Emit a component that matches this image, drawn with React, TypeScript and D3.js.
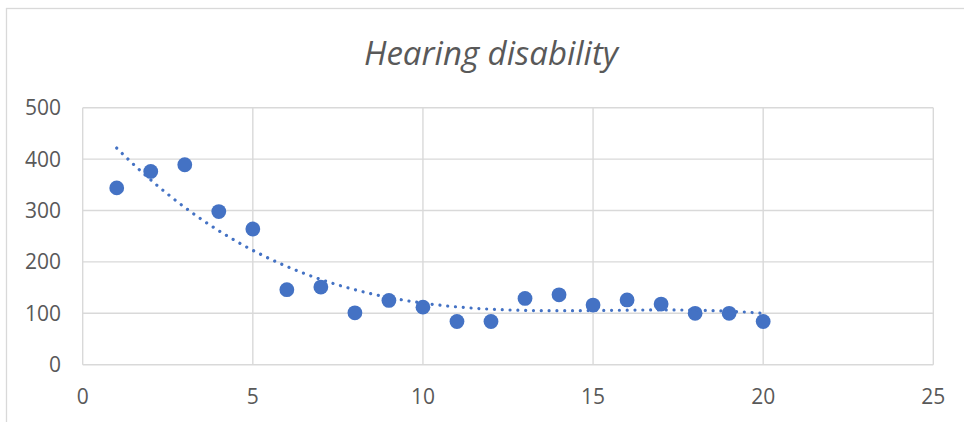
import React from "react";
import * as d3 from "d3";

const xValues = [1, 2, 3, 4, 5, 6, 7, 8, 9, 10, 11, 12, 13, 14, 15, 16, 17, 18, 19, 20];
const yValues = [344, 376, 389, 298, 264, 146, 151, 101, 125, 112, 84, 84, 129, 136, 116, 126, 118, 100, 100, 84];
const xTicks = [0, 5, 10, 15, 20, 25];
const yTicks = [0, 100, 200, 300, 400, 500];
const title = "Hearing disability";
const trendOrder = 3;

const W = 964;
const H = 422;
const plot = { left: 82.7, right: 933.3, top: 107.7, bottom: 364.7 };
const blue = "#4472C4";
const grid = "#d9d9d9";
const textColor = "#595959";
const font = "'Open Sans', 'Noto Sans', sans-serif";

function polyFit(xs: number[], ys: number[], order: number): number[] {
  const n = order + 1;
  const A: number[][] = Array.from({ length: n }, () => new Array(n + 1).fill(0));
  for (let i = 0; i < xs.length; i++) {
    for (let r = 0; r < n; r++) {
      for (let c = 0; c < n; c++) A[r][c] += Math.pow(xs[i], r + c);
      A[r][n] += ys[i] * Math.pow(xs[i], r);
    }
  }
  for (let col = 0; col < n; col++) {
    let piv = col;
    for (let r = col + 1; r < n; r++) if (Math.abs(A[r][col]) > Math.abs(A[piv][col])) piv = r;
    [A[col], A[piv]] = [A[piv], A[col]];
    for (let r = 0; r < n; r++) {
      if (r === col) continue;
      const f = A[r][col] / A[col][col];
      for (let c = col; c <= n; c++) A[r][c] -= f * A[col][c];
    }
  }
  return A.map((row, i) => row[n] / row[i]);
}

export default function App() {
  const x = d3.scaleLinear().domain([0, 25]).range([plot.left, plot.right]);
  const y = d3.scaleLinear().domain([0, 500]).range([plot.bottom, plot.top]);
  const coef = polyFit(xValues, yValues, trendOrder);
  const evalPoly = (t: number) => coef.reduce((s, c, i) => s + c * Math.pow(t, i), 0);
  const xMin = d3.min(xValues) as number;
  const xMax = d3.max(xValues) as number;
  const trendPts: [number, number][] = d3.range(0, 201).map((i) => {
    const t = xMin + ((xMax - xMin) * i) / 200;
    return [t, evalPoly(t)];
  });
  const line = d3
    .line<[number, number]>()
    .x((d) => x(d[0]))
    .y((d) => y(d[1]));

  return (
    <svg
      width={W}
      height={H}
      style={{ position: "absolute", left: 0, top: 0, display: "block", background: "#fff" }}
    >
      <rect x={6.5} y={8.5} width={1100} height={600} fill="#fff" stroke={grid} strokeWidth={1.3} />
      <text
        x={491}
        y={64.5}
        textAnchor="middle"
        fill={textColor}
        fontFamily={font}
        fontStyle="italic"
        fontSize={33}
      >
        {title}
      </text>
      {yTicks.map((t) => (
        <line key={"gy" + t} x1={plot.left} x2={plot.right} y1={y(t)} y2={y(t)} stroke={grid} strokeWidth={1.4} />
      ))}
      {xTicks.map((t) => (
        <line key={"gx" + t} x1={x(t)} x2={x(t)} y1={plot.top} y2={plot.bottom} stroke={grid} strokeWidth={1.4} />
      ))}
      {yTicks.map((t) => (
        <text
          key={"ly" + t}
          x={61}
          y={y(t)}
          dy="0.36em"
          textAnchor="end"
          fill={textColor}
          fontFamily={font}
          fontSize={21}
        >
          {t}
        </text>
      ))}
      {xTicks.map((t) => (
        <text
          key={"lx" + t}
          x={x(t)}
          y={396}
          dy="0.36em"
          textAnchor="middle"
          fill={textColor}
          fontFamily={font}
          fontSize={21}
        >
          {t}
        </text>
      ))}
      {xValues.map((xv, i) => (
        <circle key={"p" + i} cx={x(xv)} cy={y(yValues[i])} r={7.4} fill={blue} />
      ))}
      <path
        d={line(trendPts) || ""}
        fill="none"
        stroke={blue}
        strokeWidth={3.2}
        strokeLinecap="round"
        strokeDasharray="0.01 7.8"
      />
    </svg>
  );
}
